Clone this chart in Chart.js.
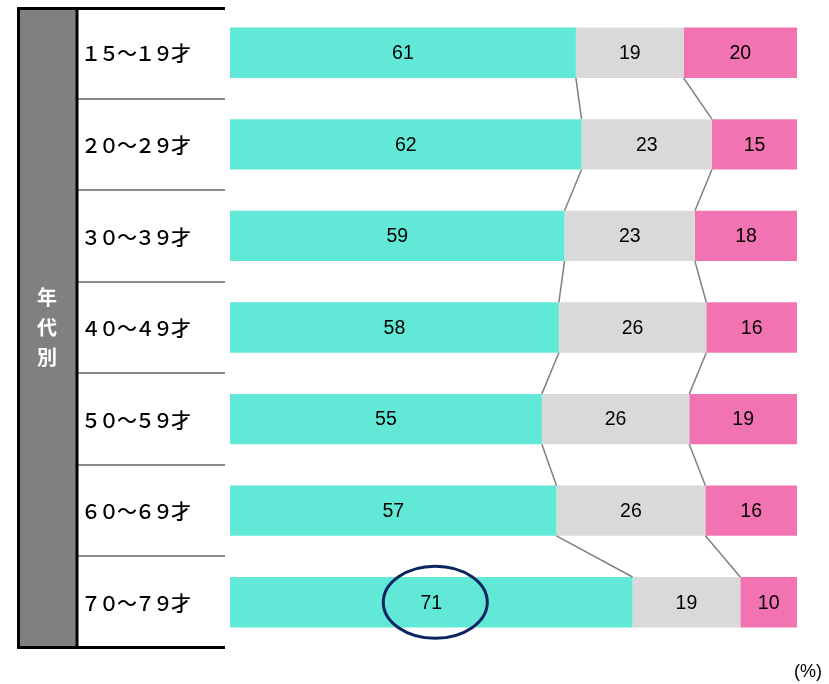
<!DOCTYPE html>
<html><head><meta charset="utf-8">
<script src="https://cdn.jsdelivr.net/npm/chart.js@4/dist/chart.umd.min.js"></script>
<style>html,body{margin:0;padding:0;background:#fff;}#wrap{width:829px;height:684px;position:relative}</style>
</head><body><div id="wrap"><canvas id="c" width="829" height="684"></canvas></div>
<script>
const categories = ['１５～１９才','２０～２９才','３０～３９才','４０～４９才','５０～５９才','６０～６９才','７０～７９才'];
const groupTitle = '年代別';
const seriesA = [61, 62, 59, 58, 55, 57, 71];
const seriesB = [19, 23, 23, 26, 26, 26, 19];
const seriesC = [20, 15, 18, 16, 19, 16, 10];
const unitLabel = '(%)';
const highlightIndex = 6;

const colors = ['#61E8D7', '#D9D9D9', '#F273B1'];
const raw = [seriesA, seriesB, seriesC];
const totals = seriesA.map((v, i) => seriesA[i] + seriesB[i] + seriesC[i]);
const pct = raw.map(s => s.map((v, i) => v / totals[i] * 100));

const tablePlugin = {
  id: 'table',
  beforeDraw(chart) {
    const ctx = chart.ctx, y = chart.scales.y, area = chart.chartArea;
    const top = area.top, bottom = area.bottom;
    ctx.save();
    ctx.fillStyle = '#808080';
    ctx.fillRect(18, top, 59, bottom - top);
    // separators
    ctx.strokeStyle = '#8c8c8c'; ctx.lineWidth = 2;
    for (let i = 0; i < categories.length - 1; i++) {
      const yy = Math.round((y.getPixelForValue(i) + y.getPixelForValue(i + 1)) / 2);
      ctx.beginPath(); ctx.moveTo(78, yy); ctx.lineTo(225, yy); ctx.stroke();
    }
    ctx.strokeStyle = '#000'; ctx.lineWidth = 3;
    ctx.beginPath();
    ctx.moveTo(17, top + 1.5); ctx.lineTo(225, top + 1.5);
    ctx.moveTo(17, bottom - 0.5); ctx.lineTo(225, bottom - 0.5);
    ctx.moveTo(18.5, top); ctx.lineTo(18.5, bottom + 1);
    ctx.moveTo(77, top); ctx.lineTo(77, bottom + 1);
    ctx.stroke();
    // vertical title
    ctx.fillStyle = '#fff';
    ctx.font = 'bold 20px "Noto Sans CJK JP"';
    ctx.textAlign = 'center'; ctx.textBaseline = 'middle';
    const mid = (top + bottom) / 2;
    const chars = [...groupTitle];
    chars.forEach((ch, k) => ctx.fillText(ch, 47, mid + (k - (chars.length - 1) / 2) * 30));
    // row labels
    ctx.fillStyle = '#000';
    ctx.font = '500 20px "Noto Sans CJK JP"';
    ctx.textAlign = 'left';
    if ('letterSpacing' in ctx) ctx.letterSpacing = '-2px';
    categories.forEach((c, i) => ctx.fillText(c, 81, y.getPixelForValue(i) + 1));
    if ('letterSpacing' in ctx) ctx.letterSpacing = '0px';
    // unit
    ctx.font = '18px "Liberation Sans"';
    ctx.textAlign = 'right';
    ctx.fillText(unitLabel, 822, 672);
    ctx.restore();
  },
  afterDatasetsDraw(chart) {
    const ctx = chart.ctx;
    const metas = [0, 1, 2].map(d => chart.getDatasetMeta(d));
    ctx.save();
    // connectors
    ctx.strokeStyle = '#808080'; ctx.lineWidth = 1.5;
    for (let i = 0; i < categories.length - 1; i++) {
      for (let d = 0; d < 2; d++) {
        const a = metas[d].data[i], b = metas[d].data[i + 1];
        ctx.beginPath();
        ctx.moveTo(a.x, a.y + a.height / 2);
        ctx.lineTo(b.x, b.y - b.height / 2);
        ctx.stroke();
      }
    }
    // labels
    ctx.fillStyle = '#000';
    ctx.font = '19.5px "Liberation Sans"';
    ctx.textAlign = 'center'; ctx.textBaseline = 'middle';
    metas.forEach((m, d) => {
      m.data.forEach((el, i) => {
        ctx.fillText(String(raw[d][i]), (el.x + el.base) / 2, el.y + 1);
      });
    });
    // highlight ellipse
    const h = metas[0].data[highlightIndex];
    ctx.strokeStyle = '#0C2461'; ctx.lineWidth = 3;
    ctx.beginPath();
    ctx.ellipse((h.x + h.base) / 2 + 4, h.y, 52, 36, 0, 0, Math.PI * 2);
    ctx.stroke();
    ctx.restore();
  }
};

new Chart(document.getElementById('c'), {
  type: 'bar',
  data: {
    labels: categories,
    datasets: pct.map((s, d) => ({
      data: s,
      backgroundColor: colors[d],
      borderWidth: 0,
      barPercentage: 0.55,
      categoryPercentage: 1
    }))
  },
  options: {
    indexAxis: 'y',
    responsive: false,
    animation: false,
    devicePixelRatio: 1,
    layout: { padding: { left: 230, right: 32, top: 7, bottom: 36 } },
    scales: {
      x: { stacked: true, min: 0, max: 100, display: false },
      y: { stacked: true, display: false }
    },
    plugins: { legend: { display: false }, tooltip: { enabled: false } }
  },
  plugins: [tablePlugin]
});
</script>
</body></html>
